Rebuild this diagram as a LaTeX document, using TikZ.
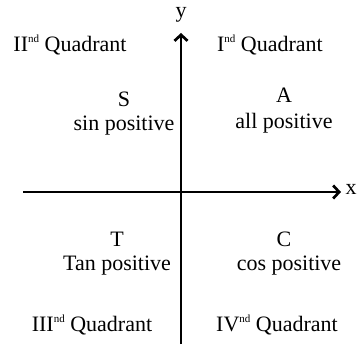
\documentclass[tikz,border=0pt]{standalone}
\usepackage{fontspec}
\setmainfont{Liberation Serif}
\usetikzlibrary{arrows.meta}
\newcommand{\supnd}{\raisebox{0.8ex}{\fontsize{11}{12}\selectfont nd}}
\begin{document}
\begin{tikzpicture}[x=1pt,y=-1pt,
  axis/.style={line width=2.7pt,-{Straight Barb[length=6pt,width=13pt,line width=2.7pt]}},
  lbl/.style={font=\fontsize{22}{26}\selectfont,inner sep=0pt,align=center},
  quad/.style={font=\fontsize{22}{26}\selectfont,inner sep=0pt}]
\useasboundingbox (0,0) rectangle (358,347);
\coordinate (ybot) at (181,344);
\coordinate (ytop) at (181,33);
\coordinate (xl) at (23,192);
\coordinate (xr) at (341,192);
\draw[axis] (ybot) -- (ytop);
\draw[axis] (xl) -- (xr);
\node[lbl] (ylab) at (181,15) {y};
\node[lbl] (xlab) at (351,189) {x};
\node[quad] (q2) at (70,45) {II\supnd\ Quadrant};
\node[quad] (q1) at (270,45) {I\supnd\ Quadrant};
\node[quad] (q3) at (92,325) {III\supnd\ Quadrant};
\node[quad] (q4) at (277,325) {IV\supnd\ Quadrant};
\node[lbl] (S) at (124,99) {S};
\node[lbl] (Sp) at (124,126) {sin positive};
\node[lbl] (A) at (284,95) {A};
\node[lbl] (Ap) at (284,123) {all positive};
\node[lbl] (T) at (117,239) {T};
\node[lbl] (Tp) at (117,266) {Tan positive};
\node[lbl] (C) at (284,239) {C};
\node[lbl] (Cp) at (289,266) {cos positive};
\end{tikzpicture}
\end{document}
